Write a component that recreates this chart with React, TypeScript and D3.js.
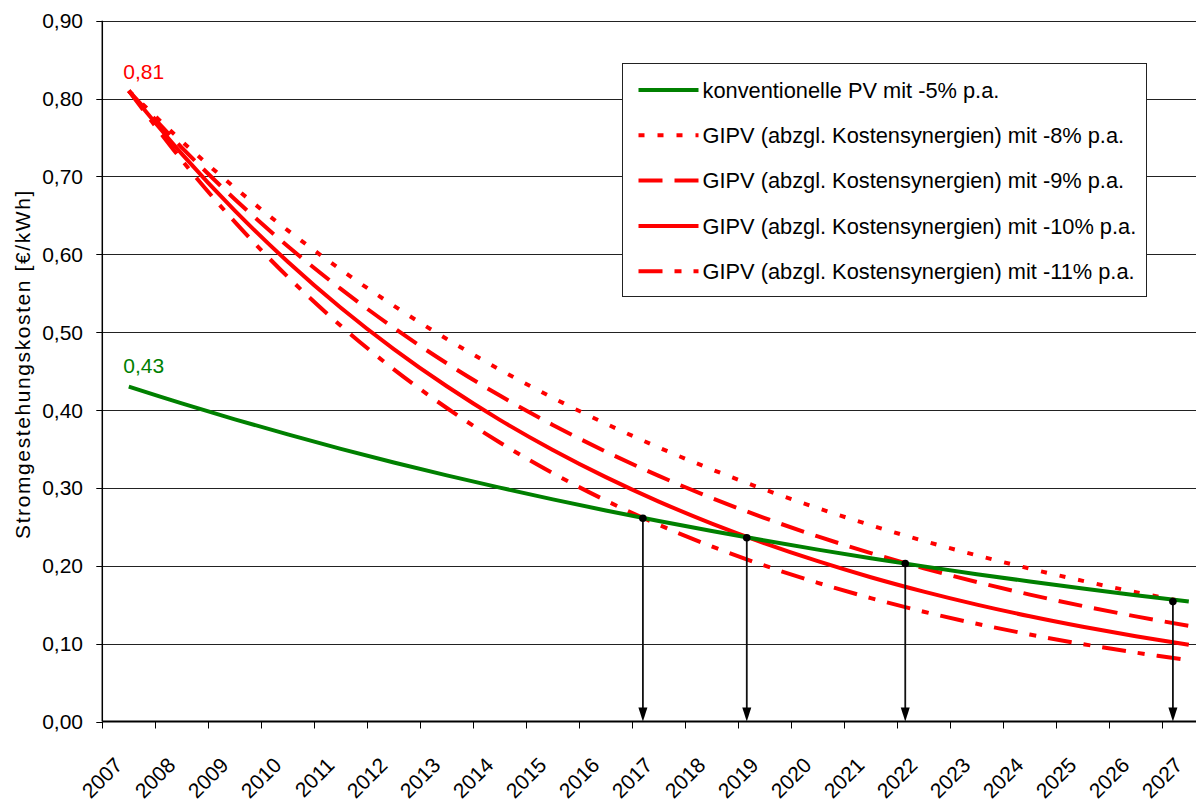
import React from 'react';
import * as d3 from 'd3';

// Jahre (Kategorien der x-Achse)
const years = [
  '2007', '2008', '2009', '2010', '2011', '2012', '2013', '2014', '2015', '2016',
  '2017', '2018', '2019', '2020', '2021', '2022', '2023', '2024', '2025', '2026', '2027',
];

// Stromgestehungskosten [€/kWh]
const konventionell = [
  0.43, 0.4085, 0.3881, 0.3687, 0.3502, 0.3327, 0.3161, 0.3003, 0.2853, 0.271,
  0.2575, 0.2446, 0.2324, 0.2207, 0.2097, 0.1992, 0.1892, 0.1798, 0.1708, 0.1622, 0.1541,
];
const gipv8 = [
  0.81, 0.7452, 0.6856, 0.6307, 0.5803, 0.5339, 0.4912, 0.4519, 0.4157, 0.3825,
  0.3519, 0.3237, 0.2978, 0.274, 0.2521, 0.2319, 0.2134, 0.1963, 0.1806, 0.1661, 0.1528,
];
const gipv9 = [
  0.81, 0.7371, 0.6708, 0.6104, 0.5555, 0.5055, 0.46, 0.4186, 0.3809, 0.3466,
  0.3154, 0.287, 0.2612, 0.2377, 0.2163, 0.1968, 0.1791, 0.163, 0.1483, 0.135, 0.1228,
];
const gipv10 = [
  0.81, 0.729, 0.6561, 0.5905, 0.5314, 0.4783, 0.4305, 0.3874, 0.3487, 0.3138,
  0.2824, 0.2542, 0.2288, 0.2059, 0.1853, 0.1668, 0.1501, 0.1351, 0.1216, 0.1094, 0.0985,
];
const gipv11 = [
  0.81, 0.7209, 0.6416, 0.571, 0.5082, 0.4523, 0.4026, 0.3583, 0.3189, 0.2838,
  0.2526, 0.2248, 0.2001, 0.1781, 0.1585, 0.141, 0.1255, 0.1117, 0.0994, 0.0885, 0.0788,
];

// Schnittpunkte (Jahr als Dezimalwert, Kosten)
const crossingYears = [2016.7, 2018.66, 2021.65, 2026.7];
const crossingValues = [0.261, 0.236, 0.203, 0.154];

const yTicks = [0, 0.1, 0.2, 0.3, 0.4, 0.5, 0.6, 0.7, 0.8, 0.9];

const series = [
  { name: 'konventionelle PV mit -5% p.a.', values: konventionell, color: '#008000', dash: null },
  { name: 'GIPV (abzgl. Kostensynergien) mit -8% p.a.', values: gipv8, color: '#ff0000', dash: '6,13' },
  { name: 'GIPV (abzgl. Kostensynergien) mit -9% p.a.', values: gipv9, color: '#ff0000', dash: '24,12' },
  { name: 'GIPV (abzgl. Kostensynergien) mit -10% p.a.', values: gipv10, color: '#ff0000', dash: null },
  { name: 'GIPV (abzgl. Kostensynergien) mit -11% p.a.', values: gipv11, color: '#ff0000', dash: '24,12,7,12' },
];

const W = 1196;
const H = 803;
const FONT = '"Liberation Sans", Arial, sans-serif';

const App = () => {
  const ref = React.useRef<SVGSVGElement>(null);

  React.useEffect(() => {
    const svg = d3.select(ref.current);
    svg.selectAll('*').remove();

    const left = 102.3;
    const top = 20.7;
    const bottom = 721.5;
    const right = left + 53 * years.length;

    const x = d3.scalePoint<string>().domain(years).range([left, right]).padding(0.5);
    const xYear = d3.scaleLinear()
      .domain([+years[0], +years[years.length - 1]])
      .range([x(years[0])!, x(years[years.length - 1])!]);
    const y = d3.scaleLinear().domain([0, 0.9]).range([bottom, top]);
    const fmt = (v: number) => d3.format('.2f')(v).replace('.', ',');

    // Gitternetz
    svg.append('g')
      .selectAll('line')
      .data(yTicks.filter((d) => d > 0))
      .join('line')
      .attr('x1', left).attr('x2', right)
      .attr('y1', (d) => Math.round(y(d)) + 0.5).attr('y2', (d) => Math.round(y(d)) + 0.5)
      .attr('stroke', '#222').attr('stroke-width', 1);

    // y-Achse
    const ya = svg.append('g');
    ya.append('line')
      .attr('x1', left).attr('x2', left).attr('y1', top).attr('y2', bottom)
      .attr('stroke', '#000').attr('stroke-width', 1.5);
    ya.selectAll('line.tick')
      .data(yTicks)
      .join('line')
      .attr('class', 'tick')
      .attr('x1', left - 6).attr('x2', left)
      .attr('y1', (d) => Math.round(y(d)) + 0.5).attr('y2', (d) => Math.round(y(d)) + 0.5)
      .attr('stroke', '#000');
    ya.selectAll('text')
      .data(yTicks)
      .join('text')
      .attr('x', 83).attr('y', (d) => y(d)).attr('dy', '0.36em')
      .attr('text-anchor', 'end')
      .style('font', `21px ${FONT}`)
      .text(fmt);

    svg.append('text')
      .attr('transform', `translate(30,364) rotate(-90)`)
      .attr('text-anchor', 'middle')
      .style('font', `21px ${FONT}`)
      .style('letter-spacing', '1.6px')
      .text('Stromgestehungskosten [€/kWh]');

    // x-Achse
    const xa = svg.append('g');
    xa.append('line')
      .attr('x1', left).attr('x2', right).attr('y1', bottom).attr('y2', bottom)
      .attr('stroke', '#000').attr('stroke-width', 2);
    xa.selectAll('line.tick')
      .data(d3.range(years.length + 1))
      .join('line')
      .attr('class', 'tick')
      .attr('x1', (i) => Math.round(left + x.step() * i) + 0.5)
      .attr('x2', (i) => Math.round(left + x.step() * i) + 0.5)
      .attr('y1', bottom).attr('y2', bottom + 7)
      .attr('stroke', '#000');
    xa.selectAll('text')
      .data(years)
      .join('text')
      .attr('transform', (d) => `translate(${x(d)! - 5},${bottom + 45}) rotate(-45)`)
      .attr('text-anchor', 'end')
      .style('font', `21px ${FONT}`)
      .text((d) => d);

    // Kurven
    const line = d3.line<number>()
      .x((_, i) => x(years[i])!)
      .y((d) => y(d))
      .curve(d3.curveCatmullRom.alpha(0.5));

    svg.append('g')
      .selectAll('path')
      .data(series.slice().reverse())
      .join('path')
      .attr('d', (s) => line(s.values))
      .attr('fill', 'none')
      .attr('stroke', (s) => s.color)
      .attr('stroke-width', 4)
      .attr('stroke-dasharray', (s) => s.dash);

    // Schnittpunkte mit Pfeilen
    const cross = svg.append('g')
      .selectAll('g')
      .data(crossingYears.map((yr, i) => ({ yr, v: crossingValues[i] })))
      .join('g');
    cross.append('line')
      .attr('x1', (d) => xYear(d.yr)).attr('x2', (d) => xYear(d.yr))
      .attr('y1', (d) => y(d.v)).attr('y2', bottom - 8)
      .attr('stroke', '#111').attr('stroke-width', 1.8);
    cross.append('path')
      .attr('d', (d) => {
        const cx = xYear(d.yr);
        return `M${cx},${bottom} L${cx - 4.5},${bottom - 14} L${cx + 4.5},${bottom - 14} Z`;
      })
      .attr('fill', '#000');
    cross.append('circle')
      .attr('cx', (d) => xYear(d.yr)).attr('cy', (d) => y(d.v)).attr('r', 3.8)
      .attr('fill', '#000');

    // Datenbeschriftungen
    svg.append('text')
      .attr('x', x(years[0])! + 15).attr('y', y(gipv10[0]) - 12)
      .attr('text-anchor', 'middle')
      .attr('fill', '#ff0000')
      .style('font', `21px ${FONT}`)
      .text(fmt(gipv10[0]));
    svg.append('text')
      .attr('x', x(years[0])! + 15).attr('y', y(konventionell[0]) - 14)
      .attr('text-anchor', 'middle')
      .attr('fill', '#008000')
      .style('font', `21px ${FONT}`)
      .text(fmt(konventionell[0]));

    // Legende
    const lg = svg.append('g').attr('transform', 'translate(622.5,63.5)');
    lg.append('rect')
      .attr('width', 524).attr('height', 233)
      .attr('fill', '#fff').attr('stroke', '#222').attr('stroke-width', 1);
    const item = lg.selectAll('g')
      .data(series)
      .join('g')
      .attr('transform', (_, i) => `translate(0,${26.5 + i * 45.3})`);
    item.append('line')
      .attr('x1', 16).attr('x2', 76)
      .attr('stroke', (s) => s.color)
      .attr('stroke-width', 4)
      .attr('stroke-dasharray', (s) => s.dash);
    item.append('text')
      .attr('x', 80).attr('dy', '0.36em')
      .style('font', `21.8px ${FONT}`)
      .text((s) => s.name);
  }, []);

  return (
    <svg
      ref={ref}
      width={W}
      height={H}
      style={{ position: 'absolute', left: 0, top: 0, background: '#fff' }}
    />
  );
};

export default App;
